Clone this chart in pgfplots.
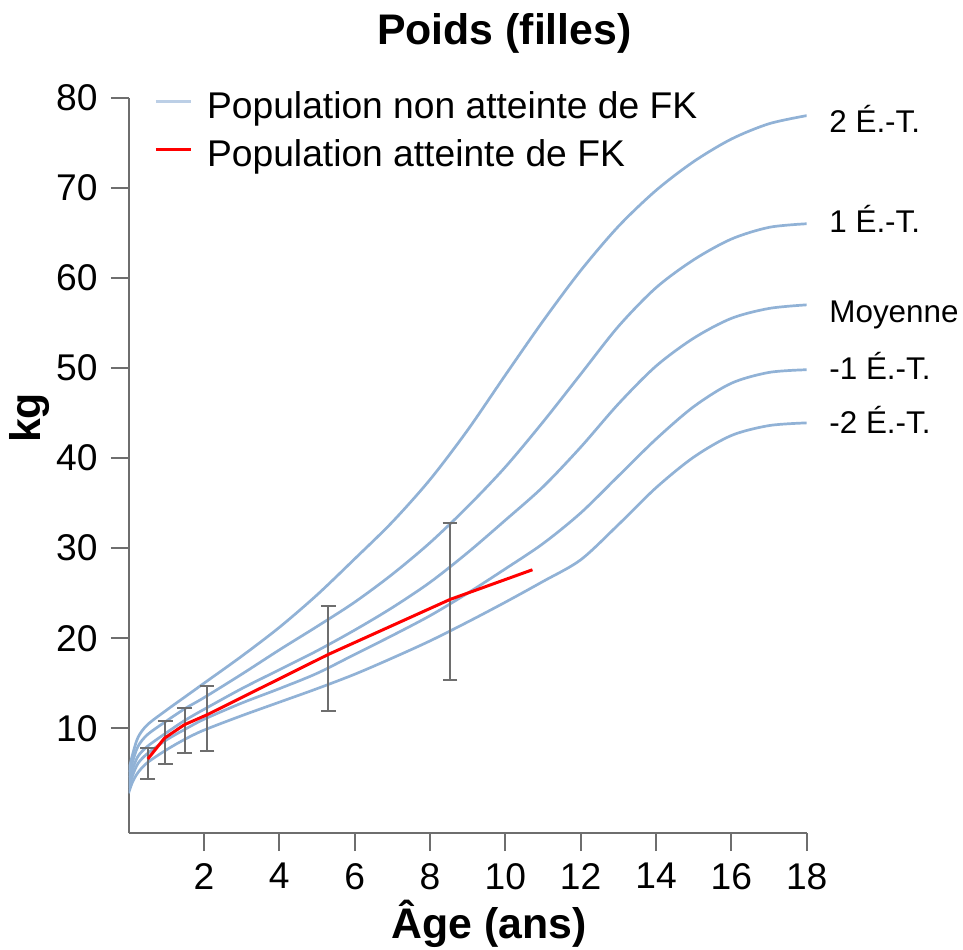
\documentclass[border=0pt]{standalone}
\usepackage{fontspec}
\setmainfont{Liberation Sans}
\usepackage{pgfplots}
\pgfplotsset{compat=1.18}
\definecolor{axisgray}{RGB}{110,110,110}
\definecolor{curveblue}{RGB}{145,178,214}
\definecolor{legendblue}{RGB}{188,207,230}
\definecolor{fkred}{RGB}{255,0,0}
\begin{document}
\begin{tikzpicture}
\useasboundingbox (-64.3pt,-57.85pt) rectangle (417.2pt,416.65pt);
\begin{axis}[
  at={(0pt,0pt)}, anchor=south west,
  scale only axis, width=339.05pt, height=367.85pt,
  xmin=0, xmax=18, ymin=-1.65, ymax=80,
  axis lines*=left,
  axis line style={-, draw=axisgray, line width=1pt},
  xtick={2,4,...,18}, ytick={10,20,...,80},
  tick align=outside, major tick length=8.85pt,
  tick style={draw=axisgray, line width=1pt},
  /pgf/number format/assume math mode=true,
  ticklabel style={font=\fontsize{18.6}{22}\selectfont},
  xticklabel style={inner sep=0pt, anchor=north, yshift=-5.85pt},
  yticklabel style={inner sep=0pt, anchor=east, xshift=-6.5pt},
  title={Poids (filles)},
  title style={at={(axis description cs:0.5542,1.0555)}, anchor=base, inner sep=0pt, font=\bfseries\fontsize{21.4}{25}\selectfont},
  xlabel={Âge (ans)},
  xlabel style={at={(axis description cs:0.5315,-0.1423)}, anchor=base, inner sep=0pt, font=\bfseries\fontsize{21.4}{25}\selectfont},
  ylabel={kg},
  ylabel style={at={(axis description cs:-0.1454,0.5645)}, anchor=center, inner sep=0pt, font=\bfseries\fontsize{21.4}{25}\selectfont},
  legend style={at={(axis description cs:0.0375,1.0144)}, anchor=north west, draw=none, fill=none, inner sep=0pt, row sep=4.95pt, font=\fontsize{18.6}{22}\selectfont, /tikz/every odd column/.style={column sep=5.35pt}},
  legend cell align=left,
  legend image code/.code={\draw[#1] (0pt,2.5pt) -- (17.5pt,2.5pt);},
  clip mode=individual,
]
% +2 SD
\addplot[curveblue, line width=1.35pt, smooth, forget plot] coordinates {
(0,5.2) (0.1,7.0) (0.25,9.0) (0.5,10.4) (1,12.0) (1.5,13.5) (2,15.0) (3,18.0) (4,21.2) (5,24.8) (6,28.8) (7,32.9) (8,37.6) (9,43.1) (10,49.2) (11,55.2) (12,60.8) (13,65.7) (14,69.7) (15,72.9) (16,75.4) (17,77.1) (18,78.0)};
% +1 SD
\addplot[curveblue, line width=1.35pt, smooth, forget plot] coordinates {
(0,4.6) (0.1,6.2) (0.25,8.0) (0.5,9.3) (1,10.8) (1.5,12.2) (2,13.4) (3,16.0) (4,18.7) (5,21.3) (6,24.0) (7,27.1) (8,30.6) (9,34.6) (10,39.0) (11,44.0) (12,49.3) (13,54.6) (14,58.9) (15,62.0) (16,64.3) (17,65.6) (18,66.0)};
% mean
\addplot[curveblue, line width=1.35pt, smooth, forget plot] coordinates {
(0,4.0) (0.1,5.4) (0.25,6.9) (0.5,8.0) (1,9.5) (1.5,10.9) (2,12.1) (3,14.4) (4,16.5) (5,18.6) (6,20.9) (7,23.4) (8,26.2) (9,29.5) (10,33.1) (11,36.8) (12,41.2) (13,46.0) (14,50.2) (15,53.3) (16,55.5) (17,56.6) (18,57.0)};
% -1 SD
\addplot[curveblue, line width=1.35pt, smooth, forget plot] coordinates {
(0,3.4) (0.1,4.7) (0.25,6.1) (0.5,7.2) (1,8.7) (1.5,9.9) (2,11.0) (3,12.8) (4,14.4) (5,16.1) (6,18.2) (7,20.3) (8,22.5) (9,25.0) (10,27.7) (11,30.5) (12,33.9) (13,38.0) (14,42.1) (15,45.7) (16,48.3) (17,49.5) (18,49.8)};
% -2 SD
\addplot[curveblue, line width=1.35pt, smooth, forget plot] coordinates {
(0,2.8) (0.1,4.0) (0.25,5.1) (0.5,6.2) (1,7.6) (1.5,8.8) (2,9.8) (3,11.4) (4,12.9) (5,14.4) (6,16.0) (7,17.8) (8,19.7) (9,21.8) (10,24.0) (11,26.3) (12,28.7) (13,32.6) (14,36.7) (15,40.1) (16,42.5) (17,43.6) (18,43.9)};
% error bars
\addplot[draw=none, mark=none, forget plot,
  error bars/.cd, y dir=both, y explicit,
  error bar style={draw=axisgray, line width=1pt},
  error mark options={rotate=90, draw=axisgray, mark size=3.7pt, line width=1pt}]
coordinates {
(0.51,6.11) +- (0,1.72)
(0.97,8.47) +- (0,2.38)
(1.49,9.765) +- (0,2.495)
(2.08,11.09) +- (0,3.56)
(5.30,17.76) +- (0,5.80)
(8.53,24.08) +- (0,8.68)};
% FK population
\addplot[fkred, line width=1.5pt, forget plot] coordinates {
(0.51,6.6) (0.95,8.9) (1.48,10.4) (2.08,11.5) (5.30,18.2) (8.53,24.3) (10.72,27.6)};
\addlegendimage{legendblue, line width=1.5pt}
\addlegendentry{Population non atteinte de FK}
\addlegendimage{fkred, line width=1.5pt}
\addlegendentry{Population atteinte de FK}
\node[anchor=base west, inner sep=0pt, xshift=11.15pt, font=\fontsize{15.7}{18}\selectfont] at (axis cs:18,76.1) {2 É.-T.};
\node[anchor=base west, inner sep=0pt, xshift=11.15pt, font=\fontsize{15.7}{18}\selectfont] at (axis cs:18,65.0) {1 É.-T.};
\node[anchor=base west, inner sep=0pt, xshift=11.15pt, font=\fontsize{15.7}{18}\selectfont] at (axis cs:18,55.0) {Moyenne};
\node[anchor=base west, inner sep=0pt, xshift=11.15pt, font=\fontsize{15.7}{18}\selectfont] at (axis cs:18,48.66) {-1 É.-T.};
\node[anchor=base west, inner sep=0pt, xshift=11.15pt, font=\fontsize{15.7}{18}\selectfont] at (axis cs:18,42.74) {-2 É.-T.};
\end{axis}
\end{tikzpicture}
\end{document}
